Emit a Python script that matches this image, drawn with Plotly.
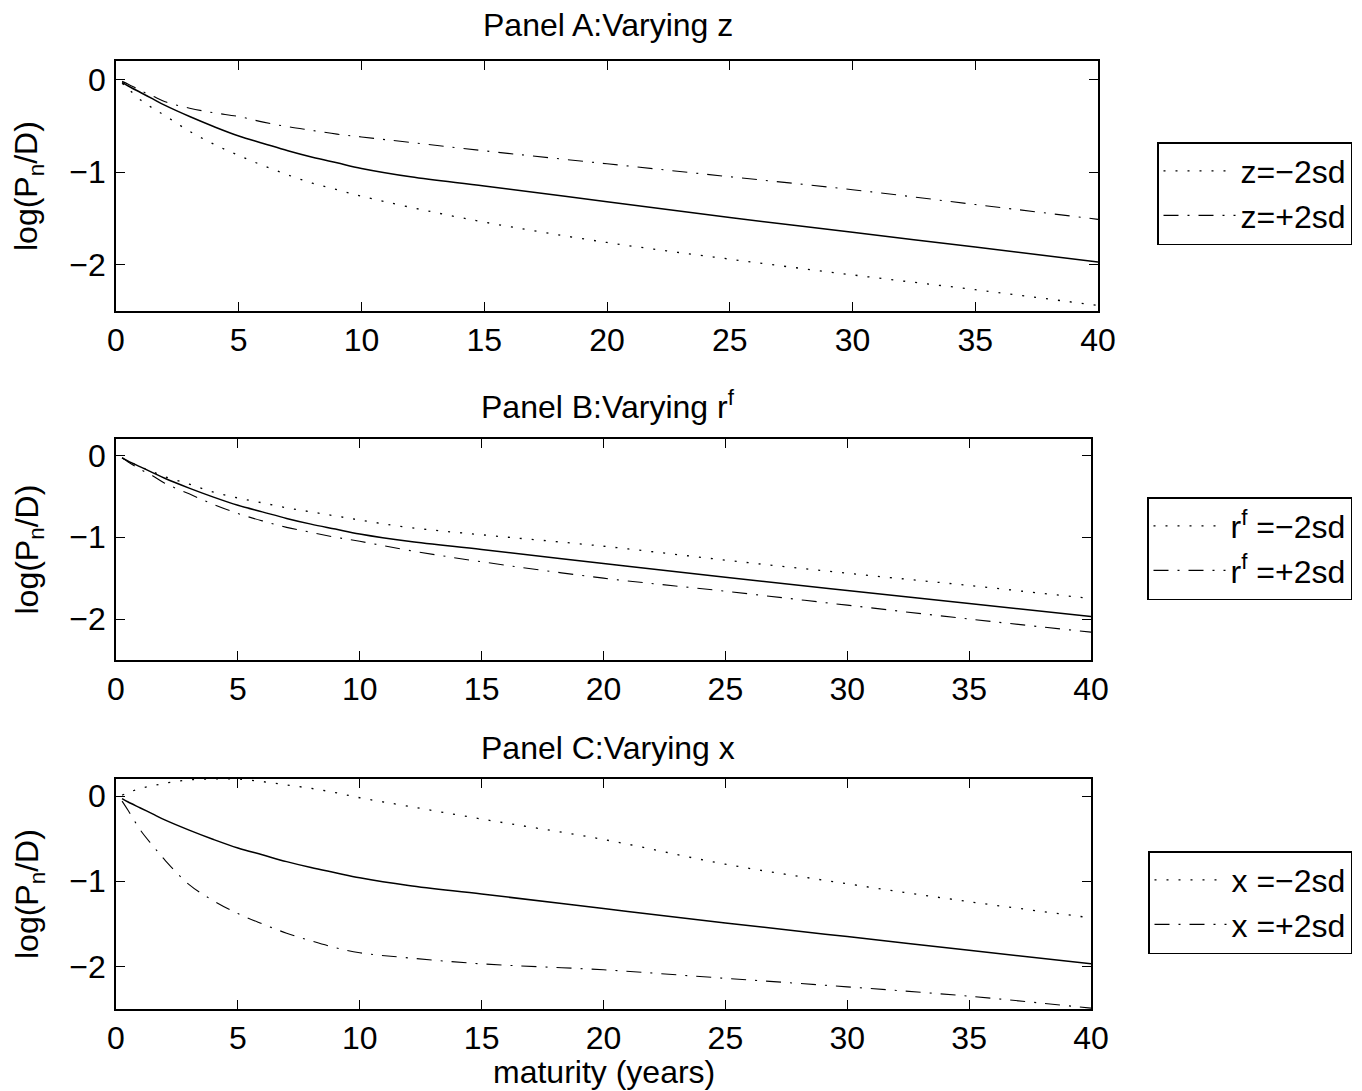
import plotly.graph_objects as go

# maturity grid (years)
maturity = [0.25, 0.5, 1, 1.5, 2, 3, 4, 5, 6, 7, 8, 9, 10, 12, 15, 20, 25, 30, 35, 40]

# baseline (solid) curve, identical in all panels
base = [-0.03, -0.07, -0.14, -0.21, -0.28, -0.40, -0.51, -0.61, -0.69, -0.77, -0.84, -0.90,
        -0.96, -1.05, -1.15, -1.32, -1.49, -1.65, -1.81, -1.97]

# Panel A: varying z
z_minus = [-0.04, -0.10, -0.22, -0.31, -0.39, -0.56, -0.70, -0.82, -0.93, -1.03, -1.12, -1.19,
           -1.26, -1.38, -1.54, -1.76, -1.94, -2.11, -2.27, -2.44]
z_plus = [-0.02, -0.05, -0.12, -0.18, -0.24, -0.31, -0.36, -0.40, -0.46, -0.51, -0.55, -0.59,
          -0.62, -0.68, -0.77, -0.91, -1.05, -1.19, -1.35, -1.51]

# Panel B: varying r^f
rf_minus = [-0.03, -0.07, -0.14, -0.20, -0.26, -0.35, -0.45, -0.52, -0.58, -0.64, -0.69, -0.74,
            -0.79, -0.88, -0.97, -1.11, -1.28, -1.44, -1.59, -1.75]
rf_plus = [-0.03, -0.08, -0.17, -0.25, -0.34, -0.47, -0.60, -0.71, -0.80, -0.88, -0.94, -1.00,
           -1.05, -1.16, -1.30, -1.50, -1.66, -1.83, -2.00, -2.16]

# Panel C: varying x
x_minus = [0.01, 0.04, 0.09, 0.12, 0.15, 0.19, 0.20, 0.20, 0.17, 0.13, 0.09, 0.04,
           -0.02, -0.12, -0.27, -0.51, -0.80, -1.03, -1.24, -1.43]
x_plus = [-0.06, -0.17, -0.40, -0.58, -0.75, -1.04, -1.23, -1.38, -1.50, -1.61, -1.70, -1.78,
          -1.84, -1.90, -1.97, -2.04, -2.14, -2.24, -2.35, -2.49]

panel_titles = ["Panel A:Varying z", "Panel B:Varying r<sup>f</sup>", "Panel C:Varying x"]
legend_labels = [["z=\u22122sd", "z=+2sd"],
                 ["r<sup>f</sup> =\u22122sd", "r<sup>f</sup> =+2sd"],
                 ["x =\u22122sd", "x =+2sd"]]
x_ticks = [0, 5, 10, 15, 20, 25, 30, 35, 40]
y_ticks = [0, -1, -2]
x_label = "maturity (years)"
y_label = "log(P<sub>n</sub>/D)"

# the page body has an 8px margin: work in screen pixels and shift by OFF
OFF = 8
W, H = 1362 - OFF, 1091 - OFF
FONT = "Liberation Sans, Arial, Helvetica, sans-serif"
FS = 32


def px(v):
    return (v - OFF) / W


def py(v):
    return 1 - (v - OFF) / H


# panel geometry in screen pixels: (left, right, top, bottom)
boxes = [(116, 1098, 61, 311), (116, 1091, 439, 660), (116, 1091, 779, 1009)]
legend_pos = [(1352, 142), (1352, 497), (1352, 851)]
title_y = [25, 405, 748]

fig = go.Figure()
DOT = "2px,10px"
DASHDOT = "15px,9px,2px,9px"

series = [(z_minus, z_plus), (rf_minus, rf_plus), (x_minus, x_plus)]
for i, (lo, hi) in enumerate(series):
    xa = "x" if i == 0 else f"x{i+1}"
    ya = "y" if i == 0 else f"y{i+1}"
    lg = "legend" if i == 0 else f"legend{i+1}"
    fig.add_trace(go.Scatter(x=maturity, y=base, mode="lines", xaxis=xa, yaxis=ya,
                             line=dict(color="black", width=1.5), showlegend=False,
                             line_shape="spline"))
    fig.add_trace(go.Scatter(x=maturity, y=lo, mode="lines", xaxis=xa, yaxis=ya,
                             name=legend_labels[i][0], legend=lg, line_shape="spline",
                             line=dict(color="black", width=1.3, dash=DOT)))
    fig.add_trace(go.Scatter(x=maturity, y=hi, mode="lines", xaxis=xa, yaxis=ya,
                             name=legend_labels[i][1], legend=lg, line_shape="spline",
                             line=dict(color="black", width=1.1, dash=DASHDOT)))

layout = dict(width=W, height=H, paper_bgcolor="white", plot_bgcolor="white",
              template="none",
              margin=dict(l=0, r=0, t=0, b=0, pad=0, autoexpand=False),
              font=dict(family=FONT, size=FS, color="black"))

axis_common = dict(showline=True, linecolor="black", linewidth=1.5, mirror="ticks",
                   ticks="inside", ticklen=9, tickwidth=1.3, tickcolor="black",
                   showgrid=False, zeroline=False, automargin=False,
                   tickfont=dict(family=FONT, size=FS, color="black"))

annotations = []
for i, (l, r, t, b) in enumerate(boxes):
    sfx = "" if i == 0 else str(i + 1)
    layout[f"xaxis{sfx}"] = dict(axis_common, domain=[px(l), px(r)], range=[0, 40],
                                 tickvals=x_ticks, ticktext=[str(v) for v in x_ticks],
                                 anchor=f"y{sfx}", ticklabelstandoff=0)
    layout[f"yaxis{sfx}"] = dict(axis_common, domain=[py(b), py(t)], range=[-2.5, 0.2],
                                 tickvals=y_ticks, ticktext=["0", "\u22121", "\u22122"],
                                 anchor=f"x{sfx}", ticklabelstandoff=2)
    lx, ly = legend_pos[i]
    lgname = "legend" if i == 0 else f"legend{i+1}"
    layout[lgname] = dict(x=px(lx), y=py(ly), xanchor="right", yanchor="top",
                          bordercolor="black", borderwidth=1.5, bgcolor="white",
                          font=dict(family=FONT, size=FS, color="black"),
                          tracegroupgap=0, itemwidth=72)
    annotations.append(dict(text=panel_titles[i], x=px(608), y=py(title_y[i]),
                            xref="paper", yref="paper", showarrow=False,
                            xanchor="center", yanchor="middle",
                            font=dict(family=FONT, size=FS, color="black")))
    annotations.append(dict(text=y_label, x=px(29), y=py((t + b) / 2),
                            xref="paper", yref="paper", showarrow=False, textangle=-90,
                            xanchor="center", yanchor="middle",
                            font=dict(family=FONT, size=FS, color="black")))

annotations.append(dict(text=x_label, x=px(604), y=py(1072), xref="paper", yref="paper",
                        showarrow=False, xanchor="center", yanchor="middle",
                        font=dict(family=FONT, size=FS, color="black")))
layout["annotations"] = annotations

fig.update_layout(**layout)
fig.write_html("out.html")
